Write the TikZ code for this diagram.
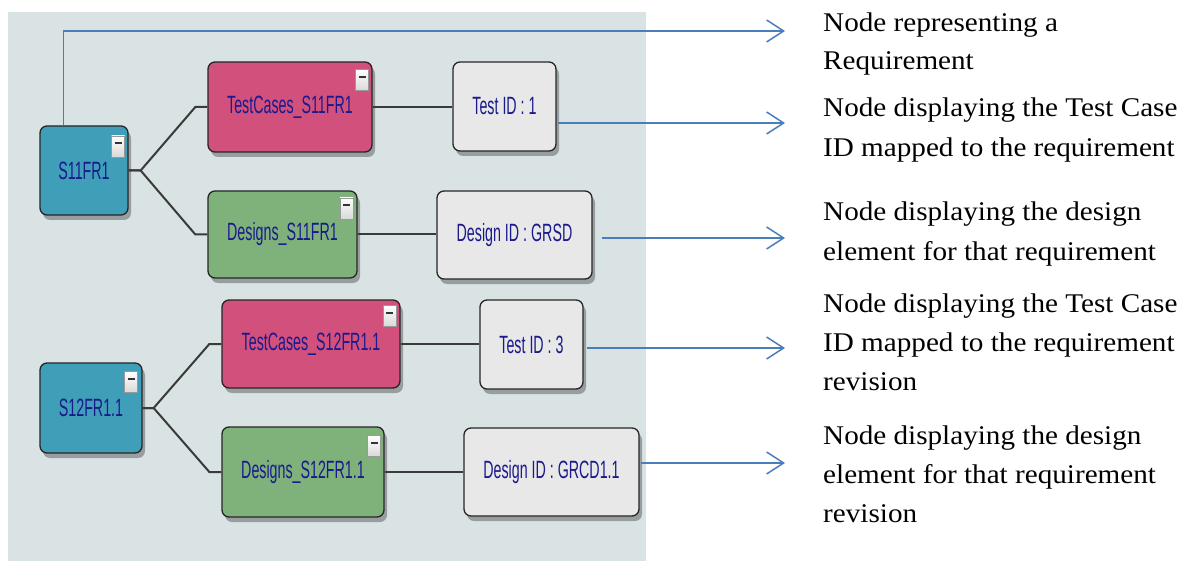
\documentclass[tikz,border=0pt]{standalone}
\usepackage{fontspec}
\setmainfont{Liberation Serif}
\newfontfamily\nodefont[FakeStretch=0.57]{Liberation Sans}
\newfontfamily\notefont[FakeStretch=1.08]{Liberation Serif}
\usetikzlibrary{shadows,arrows.meta,calc}
\definecolor{panel}{HTML}{DAE3E4}
\definecolor{reqc}{HTML}{3F9FB8}
\definecolor{testc}{HTML}{D1507C}
\definecolor{desc}{HTML}{7FB27B}
\definecolor{idc}{HTML}{E8E8E8}
\definecolor{navy}{HTML}{1A1A8C}
\definecolor{arrowblue}{HTML}{4A7EBB}
\definecolor{linkc}{HTML}{3A3A3A}
\tikzset{
  box/.style={draw=black!85, line width=1.3pt, rounded corners=7pt, text=navy,
    font=\nodefont\fontsize{25}{27}\selectfont, inner sep=0pt,
    drop shadow={shadow xshift=3pt, shadow yshift=-5pt, opacity=0.3, fill=black}},
  req/.style={box, fill=reqc},
  tcase/.style={box, fill=testc},
  dsgn/.style={box, fill=desc},
  idbox/.style={box, fill=idc},
  minus/.style={draw=black!40, line width=0.6pt, top color=white, bottom color=black!15,
    minimum width=13pt, minimum height=21pt, inner sep=0pt,
    path picture={\draw[black!80, line width=2pt] ($(path picture bounding box.center)+(-3.5pt,3pt)$) -- ++(7pt,0);}},
  link/.style={draw=linkc, line width=2pt},
  note/.style={font=\notefont\fontsize{27}{39}\selectfont, anchor=base west, inner sep=0pt},
  pointer/.style={draw=arrowblue, line width=1.5pt, -{Straight Barb[length=17pt,width=22pt]}}
}
\begin{document}
\begin{tikzpicture}[x=1pt,y=-1pt]
\useasboundingbox (0,0) rectangle (1182,561);
\fill[panel] (8,12) rectangle (646,561);

% nodes
\node[req, minimum width=88pt, minimum height=89pt] (s11) at (84,170.5) {S11FR1};
\node[tcase, minimum width=164pt, minimum height=90pt] (tc1) at (290,107) {TestCases\_S11FR1};
\node[dsgn, minimum width=149pt, minimum height=87pt] (ds1) at (282.5,234.5) {Designs\_S11FR1};
\node[idbox, minimum width=103pt, minimum height=89pt] (t1) at (504.5,106.5) {Test ID : 1};
\node[idbox, minimum width=155pt, minimum height=88pt] (d1) at (514.5,235) {Design ID : GRSD};

\node[req, minimum width=102pt, minimum height=90pt] (s12) at (91,408) {S12FR1.1};
\node[tcase, minimum width=178pt, minimum height=88pt] (tc2) at (311,344) {TestCases\_S12FR1.1};
\node[dsgn, minimum width=162pt, minimum height=90pt] (ds2) at (303,472) {Designs\_S12FR1.1};
\node[idbox, minimum width=103pt, minimum height=89pt] (t2) at (531.5,344.5) {Test ID : 3};
\node[idbox, minimum width=175pt, minimum height=88pt] (d2) at (551.5,472) {Design ID : GRCD1.1};

% collapse buttons
\node[minus] (ms11) at (118,146.5) {};
\node[minus] (mtc1) at (362,80) {};
\node[minus] (mds1) at (346.5,208.5) {};
\node[minus] (ms12) at (131,382) {};
\node[minus] (mtc2) at (389.5,315.5) {};
\node[minus] (mds2) at (374,446) {};

% tree links
\draw[link] (s11.east) -- ++(12,0) -- ($(tc1.west)+(-12,0)$) -- (tc1.west);
\draw[link] (s11.east) -- ++(12,0) -- ($(ds1.west)+(-12,0)$) -- (ds1.west);
\draw[link] (tc1.east) -- (t1.west |- tc1.east);
\draw[link] (ds1.east) -- (d1.west |- ds1.east);
\draw[link] (s12.east) -- ++(11,0) -- ($(tc2.west)+(-12,0)$) -- (tc2.west);
\draw[link] (s12.east) -- ++(11,0) -- ($(ds2.west)+(-12,0)$) -- (ds2.west);
\draw[link] (tc2.east) -- (t2.west |- tc2.east);
\draw[link] (ds2.east) -- (d2.west |- ds2.east);

% pointer ends
\coordinate (a0) at (785,31);
\coordinate (a1) at (785,123);
\coordinate (a2) at (785,238);
\coordinate (a3) at (785,348);
\coordinate (a4) at (785,463);

\draw[pointer] ($(s11.north west)+(24,0)$) |- (a0);
\draw[pointer] ($(t1.east |- a1)+(1,0)$) -- (a1);
\draw[pointer] ($(d1.east |- a2)+(9,0)$) -- (a2);
\draw[pointer] ($(t2.east |- a3)+(3,0)$) -- (a3);
\draw[pointer] ($(d2.east |- a4)+(1,0)$) -- (a4);

% notes
\node[note] (n1a) at (823,32) {Node representing a};
\node[note] (n1b) at (823,70) {Requirement};
\node[note] (n2a) at (823,117) {Node displaying the Test Case};
\node[note] (n2b) at (823,157) {ID mapped to the requirement};
\node[note] (n3a) at (823,221) {Node displaying the design};
\node[note] (n3b) at (823,260) {element for that requirement};
\node[note] (n4a) at (823,312) {Node displaying the Test Case};
\node[note] (n4b) at (823,351) {ID mapped to the requirement};
\node[note] (n4c) at (823,390) {revision};
\node[note] (n5a) at (823,444) {Node displaying the design};
\node[note] (n5b) at (823,483) {element for that requirement};
\node[note] (n5c) at (823,522) {revision};
\end{tikzpicture}
\end{document}
